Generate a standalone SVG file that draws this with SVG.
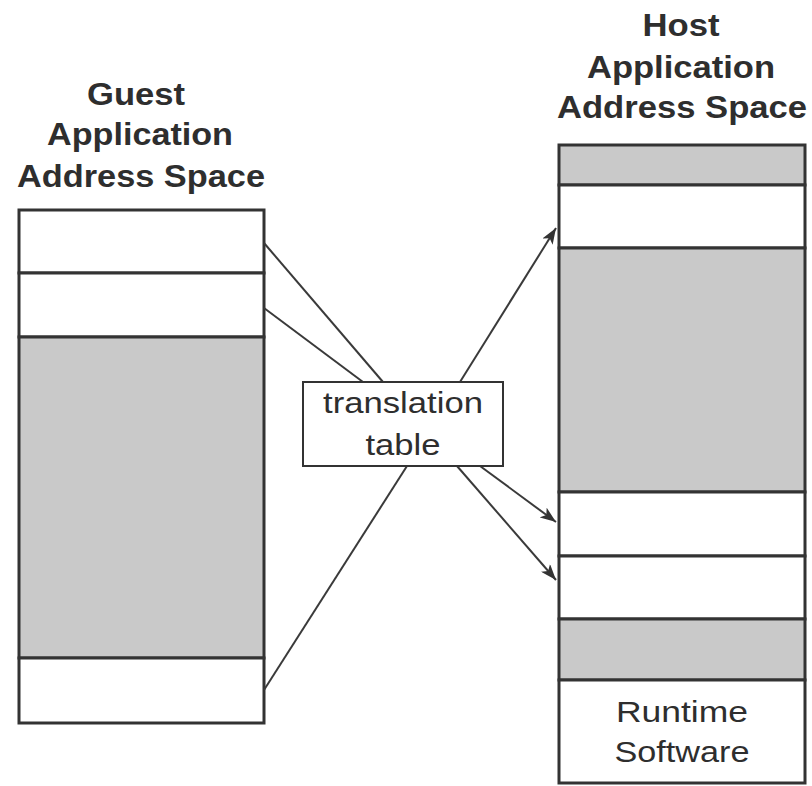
<svg xmlns="http://www.w3.org/2000/svg" width="812" height="786" viewBox="0 0 812 786">
<style>
.t{font-family:"Liberation Sans",Arial,sans-serif;fill:#2e2e2e;text-anchor:middle}
.h{font-size:31px;font-weight:bold}
.r{font-size:29px}
.w{fill:#fff;stroke:#333;stroke-width:3}
.g{fill:#c9c9c9;stroke:#333;stroke-width:3}
.c{stroke:#3a3a3a;stroke-width:2;fill:none}
</style>
<defs>
<marker id="ah" viewBox="0 0 10 10" refX="10" refY="5" markerWidth="8" markerHeight="8" markerUnits="userSpaceOnUse" orient="auto">
<path d="M0,0 L10,5 L0,10 Z" fill="#333"/>
</marker>
<marker id="a" viewBox="0 0 16 12" refX="16" refY="6" markerWidth="16" markerHeight="12" markerUnits="userSpaceOnUse" orient="auto">
<path d="M0,0 L16,6 L0,12 L4,6 Z" fill="#333"/>
</marker>
</defs>
<rect width="812" height="786" fill="#fff"/>
<g id="guest-title">
<text class="t h" x="136" y="105" textLength="98" lengthAdjust="spacingAndGlyphs">Guest</text>
<text class="t h" x="140" y="145" textLength="186" lengthAdjust="spacingAndGlyphs">Application</text>
<text class="t h" x="141" y="187" textLength="248" lengthAdjust="spacingAndGlyphs">Address Space</text>
</g>
<g id="host-title">
<text class="t h" x="681" y="36" textLength="77" lengthAdjust="spacingAndGlyphs">Host</text>
<text class="t h" x="681" y="78" textLength="188" lengthAdjust="spacingAndGlyphs">Application</text>
<text class="t h" x="682" y="118" textLength="250" lengthAdjust="spacingAndGlyphs">Address Space</text>
</g>
<g id="guest-space">
<rect class="w" x="19" y="210" width="245" height="63"/>
<rect class="w" x="19" y="273" width="245" height="64"/>
<rect class="g" x="19" y="337" width="245" height="321"/>
<rect class="w" x="19" y="658" width="245" height="65"/>
</g>
<g id="host-space">
<rect class="g" x="559" y="145" width="246" height="40"/>
<rect class="w" x="559" y="185" width="246" height="63"/>
<rect class="g" x="559" y="248" width="246" height="244"/>
<rect class="w" x="559" y="492" width="246" height="64"/>
<rect class="w" x="559" y="556" width="246" height="63"/>
<rect class="g" x="559" y="619" width="246" height="61"/>
<rect class="w" x="559" y="680" width="246" height="103"/>
<text class="t r" x="682" y="722" textLength="132" lengthAdjust="spacingAndGlyphs">Runtime</text>
<text class="t r" x="682" y="762" textLength="135" lengthAdjust="spacingAndGlyphs">Software</text>
</g>
<g id="connectors">
<line class="c" x1="264" y1="243" x2="383" y2="382"/>
<line class="c" x1="264" y1="308" x2="363" y2="382"/>
<line class="c" x1="264" y1="690" x2="407" y2="466"/>
<line class="c" x1="460" y1="382" x2="556" y2="228" marker-end="url(#a)"/>
<line class="c" x1="480" y1="466" x2="556" y2="522" marker-end="url(#a)"/>
<line class="c" x1="457" y1="466" x2="556" y2="580" marker-end="url(#a)"/>
</g>
<g id="translation-table">
<rect x="303" y="382" width="200" height="84" fill="#fff" stroke="#333" stroke-width="2"/>
<text class="t r" x="403" y="413" textLength="160" lengthAdjust="spacingAndGlyphs">translation</text>
<text class="t r" x="403" y="455" textLength="75" lengthAdjust="spacingAndGlyphs">table</text>
</g>
</svg>
